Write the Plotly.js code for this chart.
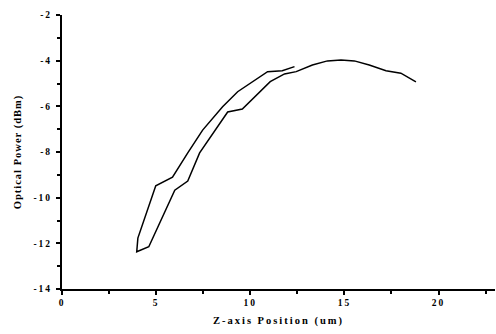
<!DOCTYPE html>
<html><head><meta charset="utf-8">
<script src="https://cdn.plot.ly/plotly-3.0.1.min.js"></script>
<style>
html,body{margin:0;padding:0;background:#fff;}
svg .xtick text, svg .ytick text{letter-spacing:2px !important;}
svg .g-xtitle text{letter-spacing:2px !important;}
svg .g-ytitle text{letter-spacing:1px !important;}
</style></head>
<body><div id="chart" style="width:496px;height:334px;"></div>
<script>
const zPos = [12.35,11.70,10.92,10.12,9.33,8.53,7.47,6.68,5.87,4.98,4.03,3.97,4.61,5.99,6.68,7.31,8.80,9.58,11.06,11.82,12.44,13.30,14.10,14.82,15.53,16.32,17.21,18.00,18.80];
const power = [-4.26,-4.44,-4.48,-4.92,-5.36,-6.02,-7.04,-8.04,-9.10,-9.48,-11.77,-12.37,-12.15,-9.67,-9.27,-8.04,-6.25,-6.12,-4.92,-4.58,-4.48,-4.19,-4.01,-3.97,-4.01,-4.19,-4.44,-4.55,-4.93];
const xTicks = [0,5,10,15,20];
const yTicks = [-14,-12,-10,-8,-6,-4,-2];

const font = {family:'"Liberation Serif", "Times New Roman", serif', color:'#000', size:9, weight:700};
Plotly.newPlot('chart', [{
  x: zPos, y: power, type:'scatter', mode:'lines',
  line:{color:'#000', width:1.5}, hoverinfo:'skip'
}], {
  width:496, height:334,
  margin:{l:62, r:1, t:15, b:45},
  paper_bgcolor:'#fff', plot_bgcolor:'#fff',
  showlegend:false,
  font: font,
  xaxis:{
    range:[0,23], tickmode:'array', tickvals:xTicks, ticktext:xTicks.map(String),
    showgrid:false, zeroline:false, showline:true, linewidth:2, linecolor:'#000',
    ticks:'outside', ticklen:4, tickwidth:2, tickcolor:'#000', ticklabelstandoff:0,
    minor:{dtick:2.5, tick0:0, ticks:'outside', ticklen:3, tickwidth:2, tickcolor:'#000', showgrid:false},
    tickfont:{...font, size:9.5},
    title:{text:'Z-axis Position (um)', font:{...font, size:10.5}, standoff:9}
  },
  yaxis:{
    range:[-14,-2], tickmode:'array', tickvals:yTicks, ticktext:yTicks.map(String),
    showgrid:false, zeroline:false, showline:true, linewidth:2, linecolor:'#000',
    ticks:'outside', ticklen:4, tickwidth:2, tickcolor:'#000', ticklabelstandoff:2,
    minor:{dtick:1, tick0:-14, ticks:'outside', ticklen:3, tickwidth:2, tickcolor:'#000', showgrid:false},
    tickfont:{...font, size:9.5},
    title:{text:'Optical Power (dBm)', font:{...font, size:10.5}, standoff:10}
  }
}, {staticPlot:true, displayModeBar:false});
</script></body></html>
